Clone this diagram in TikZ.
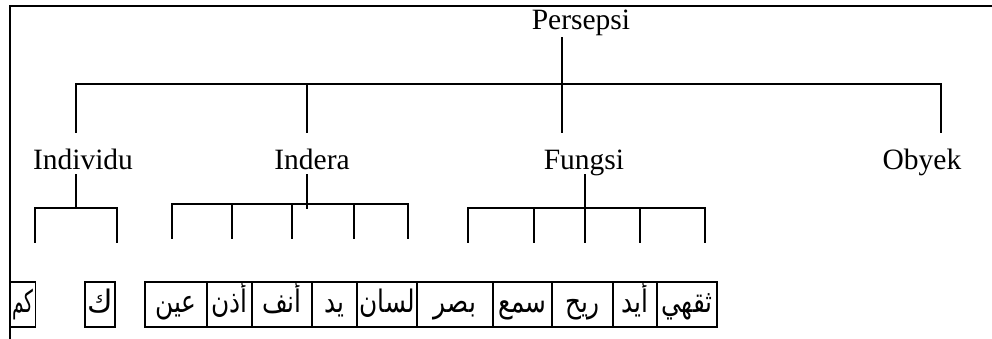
\documentclass[tikz,border=0pt]{standalone}
\usepackage{graphicx}
\usepackage{fontspec}
\setmainfont{Liberation Serif}
\newfontfamily\arabicfont[Script=Arabic]{DejaVu Sans}
\TeXXeTstate=1
\tikzset{
  lbl/.style={font=\fontsize{29.5}{34}\selectfont, inner sep=0pt, anchor=base},
  ln/.style={line width=1.6pt, line cap=rect},
  wbox/.style={draw, line width=1.6pt, inner sep=0pt, minimum height=45pt},
  atext/.style={font=\arabicfont\fontsize{31}{36}\selectfont, inner sep=0pt, anchor=base, yshift=-8pt},
}
\newcommand{\ar}[2][0.8]{\scalebox{#1}[1]{\beginR #2\endR}}
\begin{document}
\begin{tikzpicture}[x=1pt,y=-1pt]
\useasboundingbox (0,0) rectangle (992,339);
\fill[white] (0,0) rectangle (992,339);
% frame
\coordinate (fl) at (10,339);
\coordinate (ftl) at (10,6);
\coordinate (ftr) at (992,6);
\draw[ln] (fl) -- (ftl) -- (ftr);
% labels
\node[lbl] (P) at (581,30) {Persepsi};
\node[lbl] (I1) at (83,169) {Individu};
\node[lbl] (I2) at (312,169) {Indera};
\node[lbl] (F) at (584,169) {Fungsi};
\node[lbl] (O) at (922,169) {Obyek};
% level 1
\coordinate (ps) at (562,38);
\coordinate (pb) at (562,84);
\draw[ln] (ps) -- (pb);
\coordinate (a1) at (76,132);
\coordinate (a2) at (307,132);
\coordinate (a3) at (562,132);
\coordinate (a4) at (941,132);
\draw[ln] (a1) -- (a1|-pb) -- (a4|-pb) -- (a4);
\draw[ln] (a2) -- (a2|-pb);
\draw[ln] (a3) -- (a3|-pb);
% Individu
\coordinate (is) at (76,175);
\coordinate (ib) at (76,208);
\draw[ln] (is) -- (ib);
\coordinate (i1) at (35,242);
\coordinate (i2) at (117,242);
\draw[ln] (i1) -- (i1|-ib) -- (i2|-ib) -- (i2);
% Indera
\coordinate (ns) at (307,175);
\coordinate (ne) at (307,208);
\coordinate (nb) at (307,204);
\draw[ln] (ns) -- (ne);
\coordinate (n1) at (172,238);
\coordinate (n2) at (232,238);
\coordinate (n3) at (292,238);
\coordinate (n4) at (354,238);
\coordinate (n5) at (408,238);
\draw[ln] (n1) -- (n1|-nb) -- (n5|-nb) -- (n5);
\draw[ln] (n2) -- (n2|-nb);
\draw[ln] (n3) -- (n3|-nb);
\draw[ln] (n4) -- (n4|-nb);
% Fungsi
\coordinate (fs) at (585,175);
\coordinate (fe) at (585,242);
\coordinate (fb) at (585,208);
\draw[ln] (fs) -- (fe);
\coordinate (f1) at (468,242);
\coordinate (f2) at (534,242);
\coordinate (f4) at (640,242);
\coordinate (f5) at (705,242);
\draw[ln] (f1) -- (f1|-fb) -- (f5|-fb) -- (f5);
\draw[ln] (f2) -- (f2|-fb);
\draw[ln] (f4) -- (f4|-fb);
% boxes
\node[wbox, minimum width=25pt] (w1) at (23,304.5) {};
\node[wbox, minimum width=30pt] (w2) at (100,304.5) {};
\node[wbox, minimum width=62pt] (w3) at (176,304.5) {};
\node[wbox, minimum width=45pt] (w4) at (229.5,304.5) {};
\node[wbox, minimum width=60pt] (w5) at (282,304.5) {};
\node[wbox, minimum width=45pt] (w6) at (334.5,304.5) {};
\node[wbox, minimum width=60pt] (w7) at (387,304.5) {};
\node[wbox, minimum width=76pt] (w8) at (455,304.5) {};
\node[wbox, minimum width=59pt] (w9) at (522.5,304.5) {};
\node[wbox, minimum width=61pt] (w10) at (582.5,304.5) {};
\node[wbox, minimum width=44pt] (w11) at (635,304.5) {};
\node[wbox, minimum width=60pt] (w12) at (687,304.5) {};
\node[atext] (t1) at (w1.center) {\ar[0.6]{كم}};
\node[atext] (t2) at (w2.center) {\ar[1]{ك}};
\node[atext] (t3) at (w3.center) {\ar{عين}};
\node[atext] (t4) at (w4.center) {\ar{أذن}};
\node[atext] (t5) at (w5.center) {\ar{أنف}};
\node[atext] (t6) at (w6.center) {\ar{يد}};
\node[atext] (t7) at (w7.center) {\ar{لسان}};
\node[atext] (t8) at (w8.center) {\ar{بصر}};
\node[atext] (t9) at (w9.center) {\ar{سمع}};
\node[atext] (t10) at (w10.center) {\ar{ريح}};
\node[atext] (t11) at (w11.center) {\ar{أيد}};
\node[atext] (t12) at (w12.center) {\ar{ثقهي}};
\end{tikzpicture}
\end{document}
